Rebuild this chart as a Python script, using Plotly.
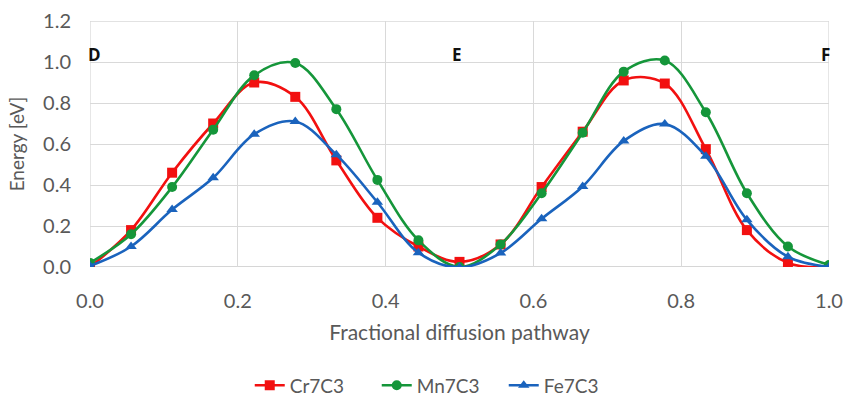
import plotly.graph_objects as go

x_frac = [i / 18 for i in range(19)]
cr7c3 = [0.00, 0.18, 0.46, 0.70, 0.90, 0.83, 0.52, 0.24, 0.10, 0.025, 0.11, 0.39, 0.66, 0.91, 0.895, 0.575, 0.18, 0.02, 0.00]
mn7c3 = [0.02, 0.16, 0.39, 0.67, 0.935, 0.995, 0.77, 0.425, 0.13, 0.00, 0.11, 0.36, 0.655, 0.953, 1.007, 0.755, 0.36, 0.10, 0.01]
fe7c3 = [0.005, 0.10, 0.28, 0.435, 0.648, 0.71, 0.548, 0.316, 0.07, -0.002, 0.068, 0.235, 0.393, 0.615, 0.697, 0.54, 0.23, 0.05, 0.00]
point_labels = ["D", "E", "F"]
point_x = [0.0, 0.496, 1.0]

series = [
    ("Cr7C3", cr7c3, "#f21010", "square"),
    ("Mn7C3", mn7c3, "#15963a", "circle"),
    ("Fe7C3", fe7c3, "#1a63bd", "triangle-up"),
]

font_family = "Lato, 'Open Sans', sans-serif"
fig = go.Figure()
for name, vals, col, sym in series:
    fig.add_trace(go.Scatter(
        x=x_frac, y=vals, name=name, mode="lines+markers",
        line=dict(color=col, width=2.6, shape="spline", smoothing=1.0),
        marker=dict(color=col, symbol=sym, size=10),
    ))

anchors = ["left", "center", "right"]
shifts = [-4, 0, 3]
for lab, px, anc, sh in zip(point_labels, point_x, anchors, shifts):
    fig.add_annotation(x=px, y=1.035, text=f"<b>{lab}</b>", showarrow=False,
                       xanchor=anc, yanchor="middle", xshift=sh,
                       font=dict(size=17, color="#111111", family="Open Sans, sans-serif"))

fig.update_layout(
    width=845, height=399,
    margin=dict(l=90, r=16, t=21, b=132, autoexpand=False),
    paper_bgcolor="white", plot_bgcolor="white",
    font=dict(family=font_family, color="#595959", size=19),
    showlegend=True,
    legend=dict(orientation="h", xref="container", yref="container",
                x=0.521, xanchor="center", y=0.034, yanchor="middle",
                entrywidth=82, entrywidthmode="pixels",
                font=dict(size=19, color="#595959"), traceorder="normal"),
)
fig.update_xaxes(range=[0, 1], dtick=0.2, tickformat=".1f", showgrid=True,
                 gridcolor="#d9d9d9", gridwidth=1.3, zeroline=False, showline=False,
                 ticks="", tickfont=dict(size=20), automargin=False, ticklabelstandoff=20,
                 title=dict(text="Fractional diffusion pathway", font=dict(size=21), standoff=14))
fig.update_yaxes(range=[0, 1.2], dtick=0.2, tickformat=".1f", showgrid=True,
                 gridcolor="#d9d9d9", gridwidth=1.3, zeroline=False, showline=False,
                 ticks="", tickfont=dict(size=20), automargin=False, ticklabelstandoff=18,
                 title=dict(text="Energy [eV]", font=dict(size=19), standoff=13))
# frame lines at edges
fig.add_shape(type="line", xref="x", yref="y", x0=0, x1=0, y0=0, y1=1.2,
              line=dict(color="#d9d9d9", width=1.3), layer="below")
fig.add_shape(type="line", xref="x", yref="y", x0=1, x1=1, y0=0, y1=1.2,
              line=dict(color="#d9d9d9", width=1.3), layer="below")
fig.add_shape(type="line", xref="x", yref="y", x0=0, x1=1, y0=1.2, y1=1.2,
              line=dict(color="#d9d9d9", width=1.3), layer="below")
fig.add_shape(type="line", xref="x", yref="y", x0=0, x1=1, y0=0, y1=0,
              line=dict(color="#c8c8c8", width=1.3), layer="below")

fig.write_html("out.html", config={"displayModeBar": False},
               post_script="document.body.style.margin='0';document.body.style.overflow='hidden';")
